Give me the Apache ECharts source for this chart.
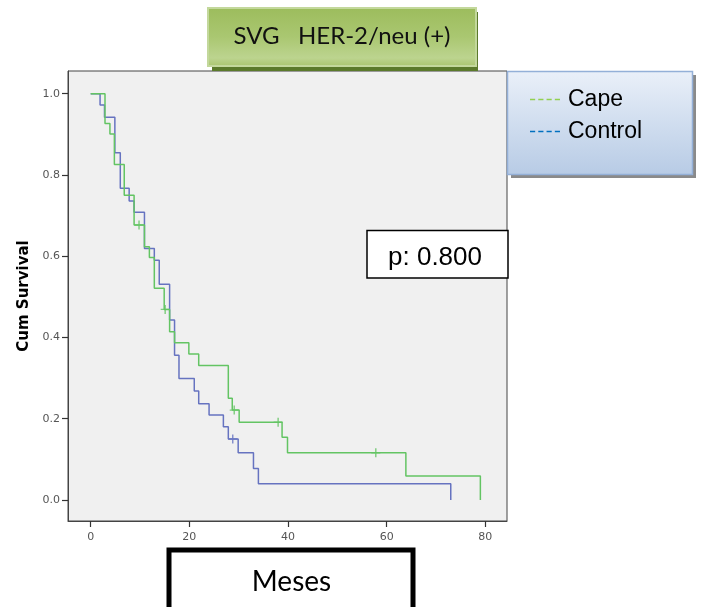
<!DOCTYPE html>
<html>
<head>
<meta charset="utf-8">
<script src="https://cdn.jsdelivr.net/npm/echarts@6/dist/echarts.min.js"></script>
<style>
html,body{margin:0;padding:0;background:#fff;}
#chart{width:701px;height:607px;}
</style>
</head>
<body>
<div id="chart"></div>
<script>
// ---- data ----
const capeTime = [0, 2.9, 3.9, 4.8, 6.8, 8.8, 10.9, 11.9, 12.9, 14.9, 16.0, 17.0, 19.9, 21.9, 27.9, 28.7, 30.1, 38.8, 39.9, 63.9, 79.0];
const capeSurv = [1, 0.927, 0.901, 0.826, 0.750, 0.677, 0.623, 0.597, 0.521, 0.469, 0.414, 0.387, 0.359, 0.331, 0.250, 0.221, 0.191, 0.154, 0.116, 0.059, 0];
const ctrlTime = [0, 1.9, 2.8, 4.9, 6.0, 7.8, 8.8, 10.9, 12.9, 13.9, 16.0, 17.0, 17.9, 21.0, 21.9, 24.0, 26.9, 27.9, 29.9, 33.0, 34.0, 73.0];
const ctrlSurv = [1, 0.972, 0.942, 0.855, 0.767, 0.736, 0.708, 0.619, 0.590, 0.531, 0.443, 0.356, 0.299, 0.268, 0.237, 0.209, 0.180, 0.150, 0.116, 0.077, 0.040, 0];
const capeCensTime = [9.8, 15.1, 29.1, 38.0, 57.8];
const capeCensSurv = [0.677, 0.469, 0.221, 0.191, 0.116];
const ctrlCensTime = [28.8];
const ctrlCensSurv = [0.150];
const xTicks = [0, 20, 40, 60, 80];
const yTicks = [0, 0.2, 0.4, 0.6, 0.8, 1.0];
const seriesNames = ['Cape', 'Control'];
const titleText = 'SVG   HER-2/neu (+)';
const pText = 'p: 0.800';
const xName = 'Meses';
const yName = 'Cum Survival';

const zip = (a, b) => a.map((v, i) => [v, b[i]]);
const plusPath = 'path://M0,4.2h10v1.6h-10z M4.2,0h1.6v10h-1.6z';
const dashPath = 'path://M0,0h5v1h-5z M8,0h5v1h-5z M16,0h5v1h-5z M24,0h5v1h-5z';
const GREEN = '#63c463', BLUE = '#6673c0';

const chart = echarts.init(document.getElementById('chart'), null, {renderer: 'canvas'});
chart.setOption({
  animation: false,
  backgroundColor: '#ffffff',
  title: {
    text: titleText, left: 342, top: 21, padding: 0, textAlign: 'center', z: 200,
    textStyle: {fontFamily: 'Lato', fontSize: 24, fontWeight: 'normal', color: '#111', lineHeight: 30}
  },
  legend: {
    orient: 'vertical', left: 530, top: 84, padding: 0, z: 200, selectedMode: false,
    itemWidth: 30, itemHeight: 1.5, itemGap: 1, symbolKeepAspect: false,
    textStyle: {fontFamily: 'Liberation Sans', fontSize: 23, color: '#000', lineHeight: 31, padding: [0, 0, 0, 3]},
    data: [
      {name: seriesNames[0], icon: dashPath, itemStyle: {color: '#92d050'}},
      {name: seriesNames[1], icon: dashPath, itemStyle: {color: '#0070c0'}}
    ]
  },
  grid: {left: 68, top: 71, width: 439, height: 450, outerBoundsMode: 'none', containLabel: false,
         show: true, backgroundColor: '#f0f0f0', borderColor: '#444', borderWidth: 1},
  xAxis: {
    type: 'value', min: -4.6, max: 84.4, z: 200,
    name: xName, nameLocation: 'middle', nameGap: 47,
    nameTextStyle: {fontFamily: 'Lato', fontSize: 28, color: '#000', lineHeight: 28, padding: [0, 0, 0, 8]},
    axisLine: {show: true, onZero: false, lineStyle: {color: '#444', width: 1}},
    axisTick: {show: true, customValues: xTicks, length: 6, lineStyle: {color: '#333', width: 1.2}},
    axisLabel: {customValues: xTicks, margin: 11, fontFamily: 'DejaVu Sans', fontSize: 11, color: '#555'},
    splitLine: {show: false}
  },
  yAxis: {
    type: 'value', min: -0.052, max: 1.056,
    name: yName, nameLocation: 'middle', nameGap: 29, nameRotate: 90,
    nameTextStyle: {fontFamily: 'DejaVu Sans', fontSize: 15, fontWeight: 'bold', color: '#000', lineHeight: 15},
    axisLine: {show: true, onZero: false, lineStyle: {color: '#444', width: 1}},
    axisTick: {show: true, customValues: yTicks, length: 6, lineStyle: {color: '#333', width: 1.2}},
    axisLabel: {customValues: yTicks, margin: 8, fontFamily: 'DejaVu Sans', fontSize: 11, color: '#555', formatter: v => v.toFixed(1)},
    splitLine: {show: false}
  },
  series: [
    {name: seriesNames[1], type: 'line', step: 'end', data: zip(ctrlTime, ctrlSurv), showSymbol: false,
     lineStyle: {color: BLUE, width: 1.5}, itemStyle: {color: BLUE}, z: 2},
    {name: seriesNames[0], type: 'line', step: 'end', data: zip(capeTime, capeSurv), showSymbol: false,
     lineStyle: {color: GREEN, width: 1.5}, itemStyle: {color: GREEN}, z: 3},
    {name: seriesNames[1], type: 'scatter', data: zip(ctrlCensTime, ctrlCensSurv), symbol: plusPath, symbolSize: 9,
     itemStyle: {color: BLUE}, z: 4},
    {name: seriesNames[0], type: 'scatter', data: zip(capeCensTime, capeCensSurv), symbol: plusPath, symbolSize: 9,
     itemStyle: {color: GREEN}, z: 4}
  ],
  graphic: [
    {type: 'rect', z: 150, shape: {x: 212, y: 12, width: 266, height: 59}, style: {fill: '#5b7a2b'}},
    {type: 'rect', z: 151, shape: {x: 208, y: 8, width: 268, height: 58},
     style: {fill: new echarts.graphic.LinearGradient(0, 0, 0, 1, [
       {offset: 0, color: '#9cbc5c'}, {offset: 0.5, color: '#aac771'}, {offset: 0.85, color: '#bcd48f'}, {offset: 1, color: '#a8c46d'}]),
       stroke: '#c3d89c', lineWidth: 2}},
    {type: 'rect', z: 150, shape: {x: 511, y: 75, width: 185, height: 103}, style: {fill: '#8a8a8a'}},
    {type: 'rect', z: 151, shape: {x: 507.5, y: 71.5, width: 185, height: 103},
     style: {fill: new echarts.graphic.LinearGradient(0, 0, 0, 1, [
       {offset: 0, color: '#eaf0f9'}, {offset: 1, color: '#b7cbe5'}]),
       stroke: '#94b0d8', lineWidth: 1.5}},
    {type: 'rect', z: 150, shape: {x: 367, y: 230.5, width: 141, height: 47.5},
     style: {fill: '#fff', stroke: '#000', lineWidth: 1.5}},
    {type: 'text', z: 152, x: 435, y: 258,
     style: {text: pText, fontFamily: 'Liberation Sans', fontSize: 26, fill: '#000', align: 'center', verticalAlign: 'middle'}},
    {type: 'rect', z: 150, shape: {x: 169, y: 550, width: 244, height: 70},
     style: {fill: '#fff', stroke: '#000', lineWidth: 5}}
  ]
});
</script>
</body>
</html>
